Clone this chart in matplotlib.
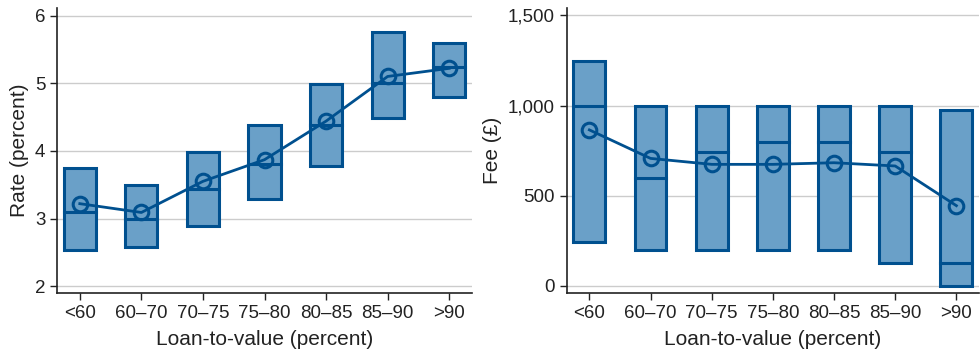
import numpy as np
import matplotlib.pyplot as plt

categories = ["<60", "60–70", "70–75", "75–80", "80–85", "85–90", ">90"]

# interest rate (percent): box bottom, median, box top, mean
rate_low = [2.54, 2.58, 2.89, 3.29, 3.78, 4.49, 4.79]
rate_med = [3.09, 2.99, 3.43, 3.80, 4.38, 5.00, 5.24]
rate_high = [3.75, 3.49, 3.99, 4.39, 4.99, 5.75, 5.59]
rate_mean = [3.22, 3.09, 3.55, 3.87, 4.44, 5.10, 5.22]

# fee (pounds): box bottom, median, box top, mean
fee_low = [246, 200, 200, 200, 200, 129, 0]
fee_med = [1000, 600, 745, 800, 800, 741, 129]
fee_high = [1245, 1000, 1000, 1000, 1000, 1000, 975]
fee_mean = [865, 707, 674, 674, 683, 665, 445]

FILL = "#6aa0c8"
EDGE = "#00508f"
GRID = "#cccccc"

plt.rcParams["font.family"] = ["Liberation Sans", "DejaVu Sans"]

fig = plt.figure(figsize=(9.8, 3.53), dpi=100)
ax1 = fig.add_axes([0.0582, 0.170, 0.4234, 0.807])
ax2 = fig.add_axes([0.5783, 0.170, 0.4207, 0.807])


def draw_panel(ax, low, med, high, mean, ylim, yticks, ylabel, fmt):
    x = np.arange(len(categories))
    w = 0.52
    for xi, lo, md, hi in zip(x, low, med, high):
        ax.add_patch(plt.Rectangle((xi - w / 2, lo), w, hi - lo,
                                   facecolor=FILL, edgecolor=EDGE, lw=2.2, zorder=3))
        ax.plot([xi - w / 2, xi + w / 2], [md, md], color=EDGE, lw=2.2, zorder=4)
    ax.plot(x, mean, color=EDGE, lw=2, marker="o", ms=10.5, mfc="none",
            mec=EDGE, mew=2.2, zorder=5)
    ax.set_xlim(-0.37, len(categories) - 1 + 0.37)
    ax.set_ylim(*ylim)
    ax.set_yticks(yticks)
    ax.set_yticklabels([fmt(v) for v in yticks])
    ax.set_xticks(x)
    ax.set_xticklabels(categories)
    for v in yticks:
        ax.axhline(v, color=GRID, lw=1, zorder=1)
    for s in ["top", "right"]:
        ax.spines[s].set_visible(False)
    for s in ["left", "bottom"]:
        ax.spines[s].set_color("#222222")
        ax.spines[s].set_linewidth(1.2)
    ax.tick_params(axis="both", labelsize=13.5, color="#222222", length=5,
                   width=1, labelcolor="#222222")
    ax.set_xlabel("Loan-to-value (percent)", fontsize=15, color="#222222", labelpad=6)
    ax.set_ylabel(ylabel, fontsize=15, color="#222222", labelpad=4)


draw_panel(ax1, rate_low, rate_med, rate_high, rate_mean, (1.9, 6.11),
           [2, 3, 4, 5, 6], "Rate (percent)", lambda v: f"{v:g}")
draw_panel(ax2, fee_low, fee_med, fee_high, fee_mean, (-39, 1540),
           [0, 500, 1000, 1500], "Fee (£)", lambda v: f"{v:,}")

fig.savefig("out.png", dpi=100)
